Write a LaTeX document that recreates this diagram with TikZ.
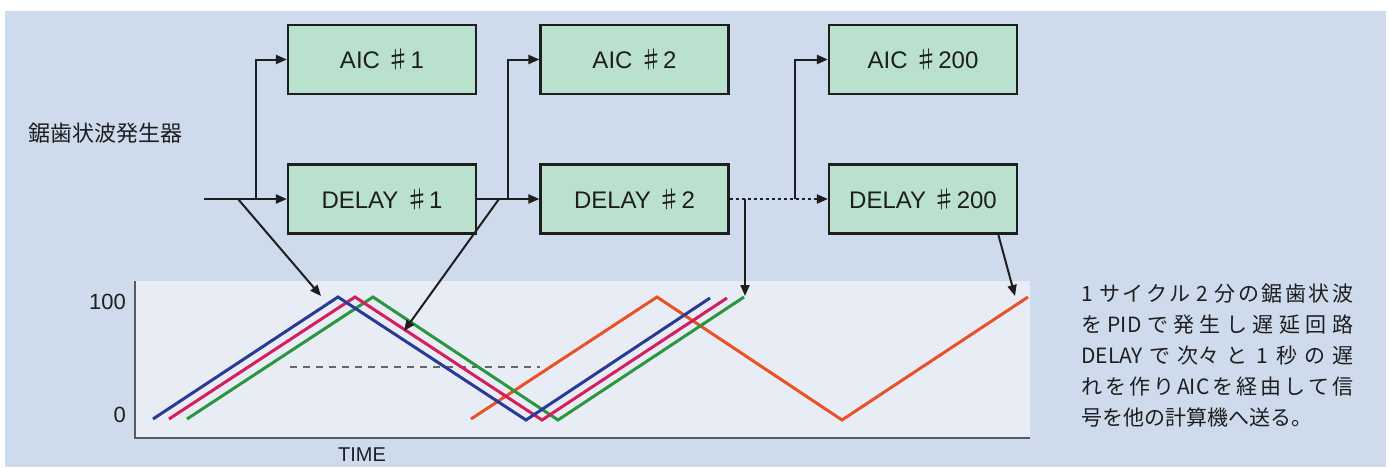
\documentclass[tikz,border=0pt]{standalone}
\usepackage{fontspec}
\setmainfont{Liberation Sans}
\newfontfamily\jp{Noto Sans CJK JP}
\usetikzlibrary{arrows.meta}
\XeTeXlinebreaklocale "ja"
\XeTeXlinebreakskip=0pt plus 4pt
\definecolor{bgblue}{RGB}{206,219,237}
\definecolor{plotbg}{RGB}{232,236,245}
\definecolor{boxgreen}{RGB}{186,225,206}
\definecolor{wblue}{RGB}{40,58,150}
\definecolor{wred}{RGB}{214,30,92}
\definecolor{wgreen}{RGB}{42,150,62}
\definecolor{worange}{RGB}{232,82,38}
\definecolor{axisgray}{RGB}{85,90,100}
\definecolor{ink}{RGB}{30,30,30}
\begin{document}
\begin{tikzpicture}[x=1pt,y=-1pt,
  blk/.style={draw=ink, line width=2.2pt, fill=boxgreen, minimum width=188pt,
    minimum height=69pt, inner sep=0pt, text=ink, font=\fontsize{24}{28}\selectfont},
  conn/.style={draw=ink, line width=2pt, -{Triangle[length=11pt,width=9pt]}},
  wave/.style={line width=3pt, line join=miter},
  axlabel/.style={text=ink, inner sep=0pt, font=\fontsize{22}{24}\selectfont},
]
\useasboundingbox (0,0) rectangle (1389,467);
\fill[bgblue] (5,11) rectangle (1386,467);

% blocks
\node[blk] (aic1)   at (382,59.5)  {AIC {\jp ♯}1};
\node[blk] (dly1)   at (382,199)   {DELAY {\jp ♯}1};
\node[blk] (aic2)   at (634.5,59.5){AIC {\jp ♯}2};
\node[blk] (dly2)   at (634.5,199) {DELAY {\jp ♯}2};
\node[blk] (aic200) at (923,59.5)  {AIC {\jp ♯}200};
\node[blk] (dly200) at (923,199)   {DELAY {\jp ♯}200};

\node[text=ink, inner sep=0pt, font=\jp\fontsize{22}{24}\selectfont] (gen) at (105,133) {鋸歯状波発生器};

% plot area
\fill[plotbg] (135,281) rectangle (1030,438);
\coordinate (ax0) at (135,281);
\coordinate (ax1) at (135,438);
\coordinate (ax2) at (1030,438);
\draw[axisgray, line width=1.5pt] (ax0) -- (ax1) -- (ax2);
\coordinate (d0) at (290,367);
\coordinate (d1) at (540,367);
\draw[black!60, line width=1.3pt, dash pattern=on 7pt off 6pt] (d0) -- (d1);
\node[axlabel, anchor=east] (l100) at (126,302) {100};
\node[axlabel, anchor=east] (l0) at (126,415) {0};
\node[axlabel, font=\fontsize{20}{22}\selectfont] (time) at (362,455) {TIME};

% waves
\draw[wave, worange] (471,419) -- (657,297) -- (842,420) -- (1028,297);
\draw[wave, wgreen] (187,419) -- (373,297) -- (558,420) -- (744,297);
\draw[wave, wred]   (169,419) -- (355,297) -- (542,420) -- (727,298);
\draw[wave, wblue]  (153,419) -- (338,297) -- (526,420) -- (710,298);

% connectors
\coordinate (in) at (204,199);
\coordinate (b1) at (256,199);
\coordinate (b2) at (508,199);
\coordinate (b3) at (795,199);
\draw[conn] (in) -- (dly1.west);
\draw[conn] (b1) |- (aic1.west);
\draw[conn] (dly1.east) -- (dly2.west);
\draw[conn] (b2) |- (aic2.west);
\draw[conn, dash pattern=on 3pt off 3pt] (dly2.east) -- (dly200.west);
\draw[conn] (b3) |- (aic200.west);

\coordinate (s1) at (238,199);
\coordinate (t1) at (321,296);
\coordinate (s2) at (499,199);
\coordinate (t2) at (404,331);
\coordinate (s3) at (745,199);
\coordinate (t3) at (745,296);
\coordinate (s4) at (998,233.5);
\coordinate (t4) at (1015,296);
\draw[conn] (s1) -- (t1);
\draw[conn] (s2) -- (t2);
\draw[conn] (s3) -- (t3);
\draw[conn] (s4) -- (t4);

% description
\node[anchor=north west, text width=272pt, align=justify, inner sep=0pt, text=ink,
  font=\jp\fontsize{21}{31}\selectfont] (desc) at (1081,284)
  {1 サイクル 2 分の鋸歯状波\linebreak
   をPIDで発生し遅延回路\linebreak
   DELAYで次々と 1 秒の遅\linebreak
   れを作りAICを経由して信\linebreak
   号を他の計算機へ送る。};
\end{tikzpicture}
\end{document}
